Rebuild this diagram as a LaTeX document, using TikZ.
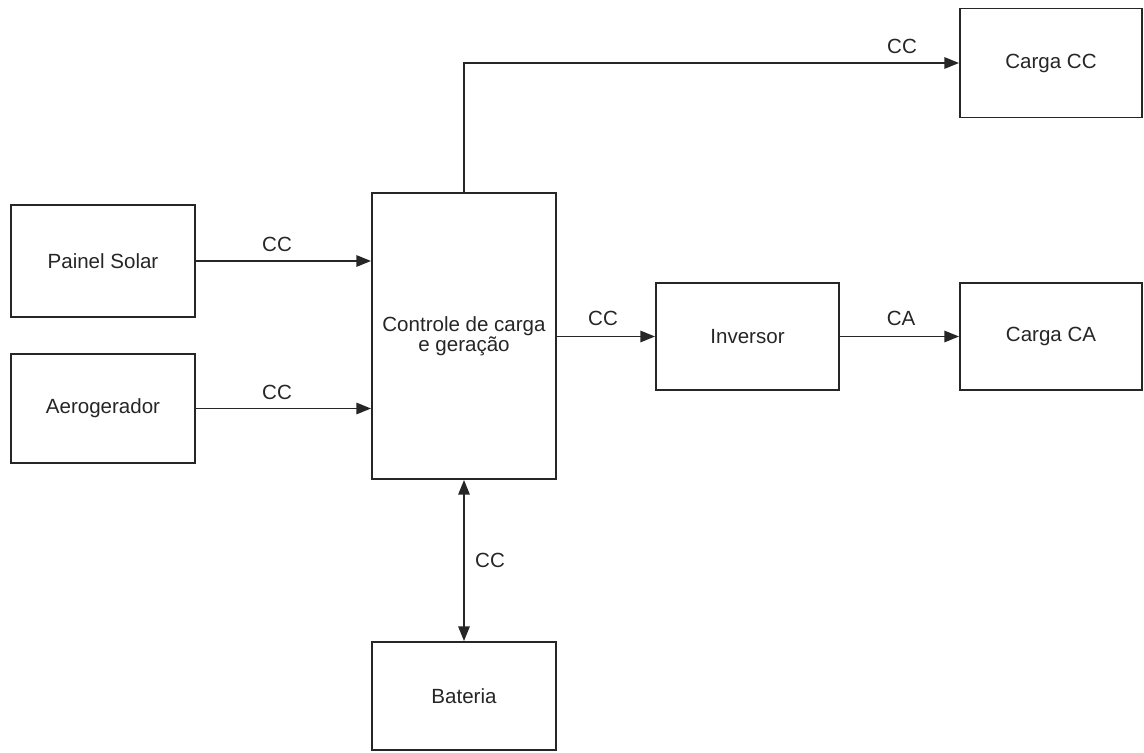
\documentclass[tikz,border=0pt]{standalone}
\usepackage{fontspec}
\setmainfont{Liberation Sans}
\usetikzlibrary{arrows.meta}
\begin{document}
\begin{tikzpicture}[x=0.75pt,y=-0.75pt,
  every node/.style={font=\fontsize{15.4}{17}\selectfont, text=black!85},
  blk/.style={draw=black!85, line width=1.4pt, fill=white, inner sep=0pt, align=center},
  conn/.style={draw=black!85, line width=1.4pt, -{Triangle[length=11pt,width=8.5pt]}},
  biconn/.style={draw=black!85, line width=1.4pt, {Triangle[length=11pt,width=8.5pt]}-{Triangle[length=11pt,width=8.5pt]}},
  lbl/.style={inner sep=0pt}]
\useasboundingbox (0,0) rectangle (1144,752);
\node[blk, minimum width=138pt, minimum height=84pt] (painel) at (103,261) {Painel Solar};
\node[blk, minimum width=138pt, minimum height=81.75pt] (aero) at (103,408.5) {Aerogerador};
\node[blk, minimum width=138pt, minimum height=214.5pt] (ctrl) at (464,336) {Controle de carga\\[-2pt]e geração};
\node[blk, minimum width=137.25pt, minimum height=80.25pt] (inv) at (747.5,336.5) {Inversor};
\node[blk, minimum width=136.5pt, minimum height=80.25pt] (cargaca) at (1051,336.5) {Carga CA};
\node[blk, minimum width=136.5pt, minimum height=81.75pt] (cargacc) at (1051,63) {Carga CC};
\node[blk, minimum width=138pt, minimum height=81pt] (bat) at (464,696) {Bateria};

\draw[conn] (painel.east) -- (painel.east -| ctrl.west);
\draw[conn] (aero.east) -- (aero.east -| ctrl.west);
\draw[conn] (ctrl.east |- inv.west) -- (inv.west);
\draw[conn] (inv.east) -- (cargaca.west);
\draw[conn] (ctrl.north) -- (ctrl.north |- cargacc.west) -- (cargacc.west);
\draw[biconn] (ctrl.south) -- (bat.north);

\node[lbl] (l1) at (277,244) {CC};
\node[lbl] (l2) at (277,392) {CC};
\node[lbl] (l3) at (603,318) {CC};
\node[lbl] (l4) at (901,318) {CA};
\node[lbl] (l5) at (902,46) {CC};
\node[lbl] (l6) at (490,560) {CC};
\end{tikzpicture}
\end{document}
